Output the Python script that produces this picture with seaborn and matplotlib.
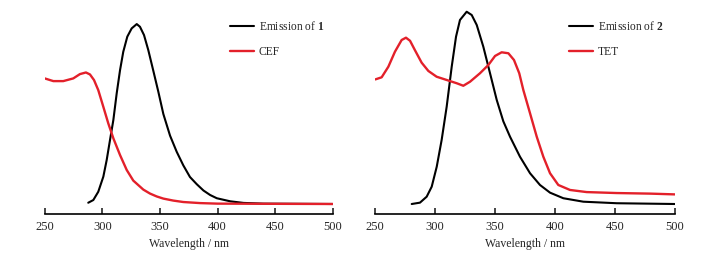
import pandas as pd
import matplotlib
matplotlib.use("Agg")
import matplotlib.pyplot as plt
import seaborn as sns

# emission of compound 1 (normalised)
em1_wl = [287.8, 292.2, 296.5, 300.9, 303.8, 306.7, 309.6, 312.5, 315.4, 318.2,
          321.7, 325.5, 329.9, 332.7, 336.2, 339.9, 344.3, 348.6, 353, 358.8,
          364.6, 370.3, 376.1, 382, 387.8, 393.6, 399.4, 411, 422.6, 440, 500]
em1_int = [0.007, 0.022, 0.068, 0.152, 0.244, 0.356, 0.467, 0.615, 0.744, 0.846,
           0.93, 0.976, 1.0, 0.985, 0.939, 0.856, 0.74, 0.625, 0.5, 0.38,
           0.29, 0.215, 0.15, 0.11, 0.075, 0.05, 0.032, 0.015, 0.006, 0.002, 0.0]

# CEF absorption
cef_wl = [250, 257.5, 266.1, 274.8, 280.6, 285.8, 289.3, 292.8, 296.5, 300.9,
          305.2, 309.6, 315.4, 321.2, 326.9, 335.6, 341.4, 347.2, 353, 361.6,
          370.3, 385, 400, 500]
cef_int = [0.698, 0.683, 0.683, 0.698, 0.722, 0.731, 0.72, 0.689, 0.633, 0.54,
           0.448, 0.365, 0.272, 0.189, 0.13, 0.08, 0.058, 0.042, 0.03, 0.019,
           0.011, 0.005, 0.002, 0.0]

# emission of compound 2 (normalised)
em2_wl = [280.4, 287.3, 292.9, 297.1, 301.3, 305.4, 309.6, 313.8, 317.4, 320.7,
          326.3, 330.5, 334.7, 340.2, 345.8, 351.4, 356.9, 362.5, 370.8, 379.2,
          387.5, 395.9, 407, 423.7, 451.6, 500]
em2_int = [0.0, 0.007, 0.038, 0.09, 0.194, 0.333, 0.506, 0.714, 0.87, 0.957,
           1.0, 0.983, 0.931, 0.818, 0.68, 0.541, 0.43, 0.35, 0.246, 0.16,
           0.099, 0.059, 0.03, 0.012, 0.004, 0.0]

# TET absorption
tet_wl = [250, 255.3, 260.9, 266.4, 272, 275.6, 279, 283.1, 288.7, 294.3, 301.2,
          309.6, 318, 323.5, 329.1, 337.4, 344.4, 350, 355.5, 361.1, 365.8,
          370.2, 373.6, 379.2, 384.8, 390.3, 395.9, 402.8, 412.6, 426.5, 451.6,
          479.4, 500]
tet_int = [0.648, 0.659, 0.714, 0.792, 0.853, 0.865, 0.849, 0.80, 0.735, 0.692,
           0.662, 0.645, 0.628, 0.615, 0.636, 0.68, 0.723, 0.77, 0.789, 0.784,
           0.749, 0.68, 0.593, 0.472, 0.35, 0.246, 0.16, 0.099, 0.073, 0.062,
           0.057, 0.054, 0.05]

xticks = [250, 300, 350, 400, 450, 500]

sns.set_style("white")
plt.rcParams['font.family'] = ['Liberation Serif', 'DejaVu Serif']
plt.rcParams['mathtext.fontset'] = 'custom'
plt.rcParams['mathtext.rm'] = 'Liberation Serif'
plt.rcParams['mathtext.bf'] = 'Liberation Serif:bold'

RED = "#e3202a"

fig = plt.figure(figsize=(7.12, 2.56), dpi=100)
ax1 = fig.add_axes([44.7 / 712, 42 / 256, 288 / 712, 209 / 256])
ax2 = fig.add_axes([375.3 / 712, 42 / 256, 299.4 / 712, 209 / 256])

panels = [
    (ax1, em1_wl, em1_int, cef_wl, cef_int, r"Emission of $\mathbf{1}$", "CEF",
     (-0.0556, 1.106), 0.643),
    (ax2, em2_wl, em2_int, tet_wl, tet_int, r"Emission of $\mathbf{2}$", "TET",
     (-0.052, 1.035), 0.647),
]

for ax, ewl, eint, awl, aint, elab, alab, ylim, lx in panels:
    em = pd.DataFrame({"wl": ewl, "val": eint})
    ab = pd.DataFrame({"wl": awl, "val": aint})
    sns.lineplot(data=em, x="wl", y="val", ax=ax, color="black", lw=1.5,
                 label=elab)
    sns.lineplot(data=ab, x="wl", y="val", ax=ax, color=RED, lw=1.7,
                 label=alab)
    ax.set_xlim(250, 500)
    ax.set_ylim(*ylim)
    ax.set_xticks(xticks)
    ax.set_yticks([])
    ax.set_xlabel("Wavelength / nm", fontsize=8.5, labelpad=3.5)
    ax.set_ylabel("")
    for side in ["top", "right", "left"]:
        ax.spines[side].set_visible(False)
    ax.spines["bottom"].set_linewidth(1.2)
    ax.spines["bottom"].set_color("black")
    ax.tick_params(axis="x", direction="in", length=4, width=1.2, labelsize=9,
                   pad=5, bottom=True)
    ax.legend(loc="upper left", bbox_to_anchor=(lx, 0.93), frameon=False,
              fontsize=8.3, handlelength=2.1, handletextpad=0.4,
              labelspacing=1.15, borderpad=0, borderaxespad=0)

fig.savefig("out.png", dpi=100)
